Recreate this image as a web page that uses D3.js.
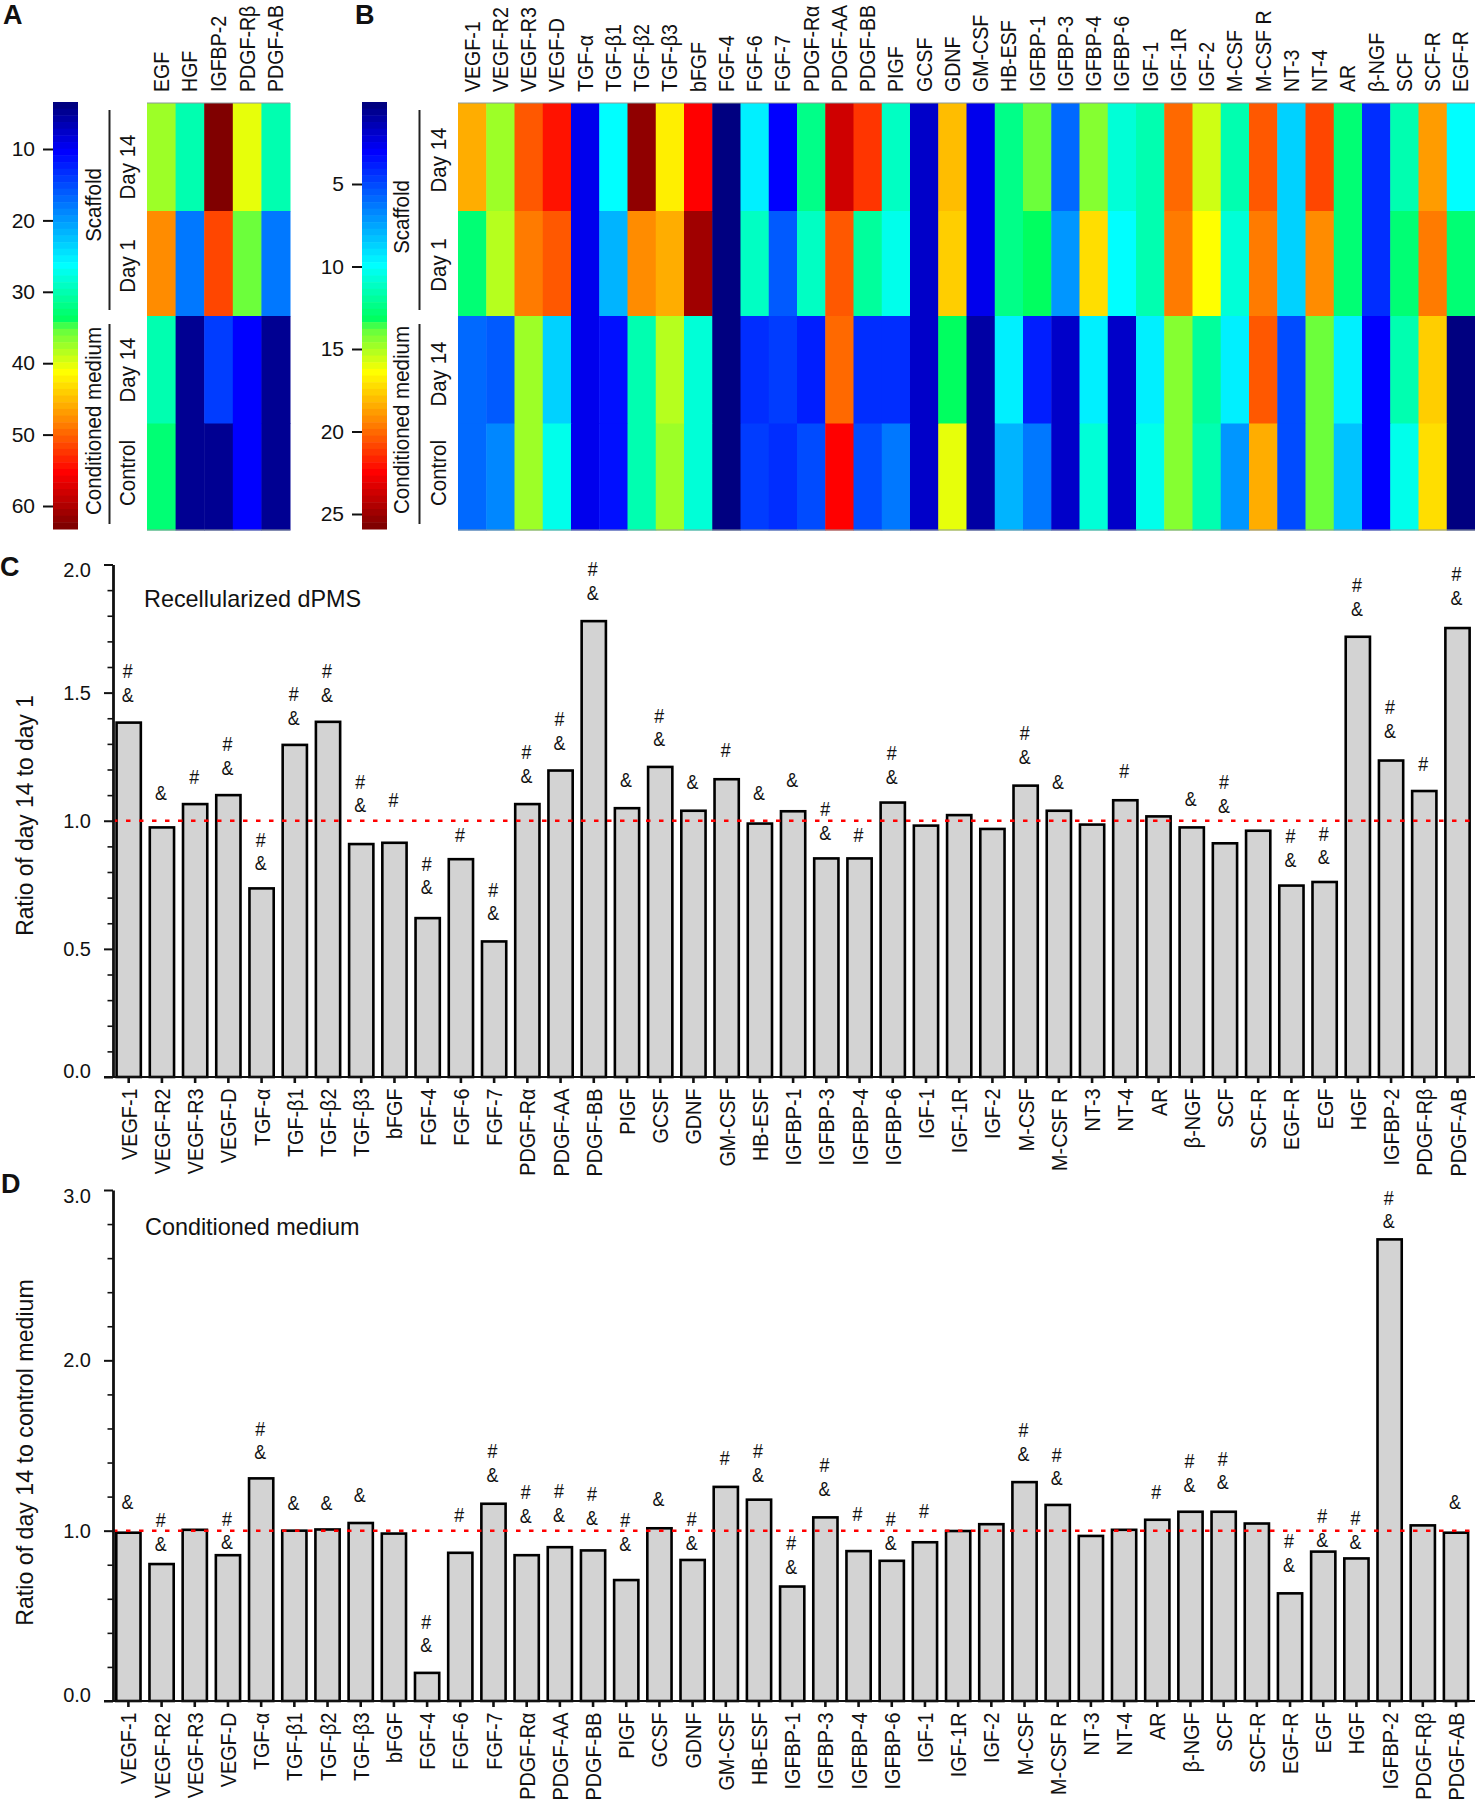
<!DOCTYPE html>
<html><head><meta charset="utf-8">
<script src="https://cdn.jsdelivr.net/npm/d3@7"></script>
<style>
html,body{margin:0;padding:0;background:#fff}
svg{display:block}
text{font-family:"Liberation Sans",Arial,sans-serif;fill:#111}
</style></head><body>
<svg id="c" width="1475" height="1800"></svg>
<script>
// ---------- DATA ----------
const colorLevels=[1,8,25,33,34.5,41,48,56,64];
const colorValues=["#000080","#0000ff","#00ffff","#00ff60","#60ff40","#ffff00","#ff8c00","#ff0000","#800000"];
const rowsLabels=["Day 14","Day 1","Day 14","Control"];

const catsA=["EGF","HGF","IGFBP-2","PDGF-Rβ","PDGF-AB"];
const levelsA_scaffold14=[37,29,64,40,29];
const levelsA_scaffold1=[48,16,52,35,16];
const levelsA_medium14=[29,2,12,8,2];
const levelsA_control=[32,2,2,8,2];
const ticksA=[10,20,30,40,50,60];
const ticksB=[5,10,15,20,25];

const catsB=["VEGF-1","VEGF-R2","VEGF-R3","VEGF-D","TGF-α","TGF-β1","TGF-β2","TGF-β3","bFGF","FGF-4","FGF-6","FGF-7","PDGF-Rα","PDGF-AA","PDGF-BB","PIGF","GCSF","GDNF","GM-CSF","HB-ESF","IGFBP-1","IGFBP-3","IGFBP-4","IGFBP-6","IGF-1","IGF-1R","IGF-2","M-CSF","M-CSF R","NT-3","NT-4","AR","β-NGF","SCF","SCF-R","EGF-R"];
const levelsB_scaffold14=[46,37,51,55,7,25,63,42,56,1,24,8,31,59,53,28,5,45,7,31,35,15,36,27,29,50,39,29,51,22,52,32,11,29,47,25];
const levelsB_scaffold1=[32,38,49,51,7,20,48,46,62,1,28,14,28,51,30,26,5,44,7,31,33,18,43,25,29,49,41,27,49,22,48,32,11,32,49,32];
const levelsB_medium14=[15,14,37,22,7,9,29,38,27,1,11,12,10,50,11,11,5,33,3,24,10,5,24,5,24,36,30,24,51,13,35,24,8,29,44,1];
const levelsB_control=[15,17,37,26,7,9,29,37,27,1,12,11,13,56,13,16,5,40,3,20,16,5,27,5,26,36,29,18,46,13,35,21,8,26,43,1];

const catsBars=["VEGF-1","VEGF-R2","VEGF-R3","VEGF-D","TGF-α","TGF-β1","TGF-β2","TGF-β3","bFGF","FGF-4","FGF-6","FGF-7","PDGF-Rα","PDGF-AA","PDGF-BB","PIGF","GCSF","GDNF","GM-CSF","HB-ESF","IGFBP-1","IGFBP-3","IGFBP-4","IGFBP-6","IGF-1","IGF-1R","IGF-2","M-CSF","M-CSF R","NT-3","NT-4","AR","β-NGF","SCF","SCF-R","EGF-R","EGF","HGF","IGFBP-2","PDGF-Rβ","PDGF-AB"];
const valuesC=[1.383,0.974,1.065,1.10,0.736,1.296,1.386,0.909,0.914,0.62,0.85,0.529,1.065,1.196,1.779,1.049,1.21,1.039,1.162,0.989,1.037,0.853,0.853,1.071,0.981,1.022,0.968,1.137,1.039,0.985,1.08,1.017,0.974,0.912,0.961,0.747,0.761,1.718,1.235,1.116,1.752];
const marksC=["#&","&","#","#&","#&","#&","#&","#&","#","#&","#","#&","#&","#&","#&","&","#&","&","#","&","&","#&","#","#&","","","","#&","&","","#","","&","#&","","#&","#&","#&","#&","#","#&"];
const markLevelC=[1.494,1.108,1.174,1.208,0.835,1.404,1.494,1.062,1.082,0.741,0.946,0.640,1.177,1.306,1.890,1.162,1.319,1.154,1.278,1.108,1.159,0.954,0.946,1.173,0,0,0,1.252,1.154,0,1.196,0,1.085,1.059,0,0.849,0.858,1.827,1.352,1.224,1.872];
const valuesD=[0.988,0.804,1.005,0.856,1.307,1.0,1.007,1.045,0.983,0.165,0.870,1.158,0.856,0.903,0.884,0.710,1.014,0.828,1.257,1.182,0.672,1.078,0.880,0.823,0.932,0.998,1.038,1.285,1.151,0.969,1.005,1.064,1.111,1.111,1.042,0.632,0.877,0.837,2.71,1.031,0.988];
const marksD=["&","#&","","#&","#&","&","&","&","","#&","#","#&","#&","#&","#&","#&","&","#&","#","#&","#&","#&","#","#&","#","","","#&","#&","","","#","#&","#&","","#&","#&","#&","#&","","&"];
const markLevelD=[1.172,0.925,0,0.934,1.462,1.165,1.167,1.212,0,0.328,1.094,1.330,1.09,1.094,1.078,0.925,1.189,0.929,1.429,1.330,0.790,1.248,1.099,0.929,1.116,0,0,1.453,1.309,0,0,1.231,1.271,1.285,0,0.800,0.948,0.936,2.818,0,1.172];
const majorC=[0,0.5,1,1.5,2];
const minorC=[0.1,0.2,0.3,0.4,0.6,0.7,0.8,0.9,1.1,1.2,1.3,1.4,1.6,1.7,1.8,1.9];
const majorD=[0,1,2,3];
const minorD=[0.2,0.4,0.6,0.8,1.2,1.4,1.6,1.8,2.2,2.4,2.6,2.8];

// ---------- DRAW ----------
const svg=d3.select("#c");
const color=d3.scaleLinear().domain(colorLevels).range(colorValues).interpolate(d3.interpolateRgb);
const levels=d3.range(1,65);
const INK="#111";
const ROT="rotate(-90) scale(1,1.08)";

function letter(t,x,y){svg.append("text").attr("x",x).attr("y",y).attr("font-size",27).attr("font-weight","bold").text(t);}
letter("A",3,24);letter("B",355,24);letter("C",0,576);letter("D",1,1193);

function colorbar(x0,ticks,domain,range){
  const g=svg.append("g");
  const y=d3.scaleBand().domain(levels).range([102,529]);
  g.selectAll("rect").data(levels).join("rect")
    .attr("x",x0).attr("width",25).attr("y",d=>y(d)).attr("height",y.bandwidth()+0.5).attr("fill",d=>color(d));
  const sc=d3.scaleLinear().domain(domain).range(range);
  const a=g.append("g").attr("transform",`translate(${x0},0)`)
    .call(d3.axisLeft(sc).tickValues(ticks).tickSize(10).tickPadding(8).tickFormat(d3.format("d")));
  a.select(".domain").remove();
  a.selectAll("line").attr("stroke",INK).attr("stroke-width",2);
  a.selectAll("text").attr("font-size",21).attr("font-family",null);
}
colorbar(53,ticksA,[10,60],[149,506]);
colorbar(362,ticksB,[5,25],[184,514]);

function sideLabels(xGroup,xDay,xLine,ys){
  const rot=(t,x,y)=>svg.append("text").attr("transform",`translate(${x},${y}) rotate(-90) scale(1,1.1)`)
    .attr("text-anchor","middle").attr("dy","0.35em").attr("font-size",20.5).text(t);
  rot("Scaffold",xGroup,ys.sc);rot("Conditioned medium",xGroup,ys.cm);
  rowsLabels.forEach((t,i)=>rot(t,xDay,ys.day[i]));
  [[110,310],[324,524]].forEach(s=>svg.append("line").attr("x1",xLine).attr("x2",xLine).attr("y1",s[0]).attr("y2",s[1])
    .attr("stroke","#222").attr("stroke-width",2));
}
sideLabels(93.5,127.5,109.5,{sc:205,cm:421,day:[167,266,370,473]});
sideLabels(401,438,419.5,{sc:217,cm:420,day:[160,265,374,473]});

function heatmap(cats,rows,x0,x1){
  const x=d3.scaleBand().domain(cats).range([x0,x1]);
  const y=d3.scaleOrdinal().domain([0,1,2,3]).range([103,211,316,423.5]);
  const yEnd=[211,316,423.5,530];
  const g=svg.append("g");
  rows.forEach((r,i)=>{
    g.append("g").selectAll("rect").data(r).join("rect")
      .attr("x",(d,j)=>x(cats[j])).attr("width",x.bandwidth()+0.5)
      .attr("y",y(i)).attr("height",yEnd[i]-y(i)+0.5).attr("fill",d=>color(d));
  });
  [103,530].forEach(v=>g.append("line").attr("x1",x0).attr("x2",x1).attr("y1",v).attr("y2",v).attr("stroke","#8a9a9a").attr("stroke-width",1));
  const a=svg.append("g").attr("transform","translate(0,92)")
    .call(d3.axisTop(x).tickSize(0).tickPadding(0));
  a.select(".domain").remove();
  a.selectAll("text").attr("font-size",19.6).attr("font-family",null)
    .attr("transform",ROT).attr("text-anchor","start").attr("x",0).attr("y",0).attr("dy","0.35em");
}
heatmap(catsA,[levelsA_scaffold14,levelsA_scaffold1,levelsA_medium14,levelsA_control],147,290);
heatmap(catsB,[levelsB_scaffold14,levelsB_scaffold1,levelsB_medium14,levelsB_control],458,1475);

function barPanel(o){
  const g=svg.append("g");
  const x=d3.scaleBand().domain(catsBars).range([o.x0,o.x0+41*o.step]).paddingInner(0.27).paddingOuter(0.135);
  const y=d3.scaleLinear().domain([0,o.max]).range([o.yBase,o.yTop]);
  g.selectAll("rect").data(o.values).join("rect")
    .attr("x",(d,i)=>x(catsBars[i])).attr("width",x.bandwidth())
    .attr("y",d=>y(d)).attr("height",d=>y(0)-y(d))
    .attr("fill","#d3d3d3").attr("stroke","#000").attr("stroke-width",2.6);
  // dotted reference line at ratio 1
  g.append("line").attr("x1",113).attr("x2",1475).attr("y1",y(1)).attr("y2",y(1))
    .attr("stroke","#ff0000").attr("stroke-width",2.5).attr("stroke-dasharray","4.5,8.5");
  // y axis
  const minor=g.append("g").attr("transform","translate(113,0)")
    .call(d3.axisLeft(y).tickValues(o.minor).tickSize(5.5).tickFormat(""));
  minor.select(".domain").remove();
  minor.selectAll("line").attr("stroke",INK).attr("stroke-width",1.6);
  const ya=g.append("g").attr("transform","translate(113,0)")
    .call(d3.axisLeft(y).tickValues(o.major).tickSize(9).tickSizeOuter(0).tickPadding(13).tickFormat(d3.format(".1f")));
  ya.select(".domain").attr("stroke",INK).attr("stroke-width",2.8);
  ya.selectAll("line").attr("stroke",INK).attr("stroke-width",2);
  ya.selectAll("text").attr("font-size",20).attr("font-family",null)
    .attr("dy",d=>d===0?"-0.0em":d===o.max?"0.6em":"0.32em");
  // x axis
  const xa=g.append("g").attr("transform",`translate(0,${o.yBase})`)
    .call(d3.axisBottom(x).tickSize(6).tickSizeOuter(0).tickPadding(0));
  xa.select(".domain").remove();
  g.append("line").attr("x1",104).attr("x2",1475).attr("y1",o.yBase).attr("y2",o.yBase).attr("stroke",INK).attr("stroke-width",2);
  xa.selectAll("line").attr("stroke",INK).attr("stroke-width",2.6);
  xa.selectAll("text").attr("font-size",19.8).attr("font-family",null)
    .attr("transform",ROT).attr("text-anchor","end").attr("x",-11.5).attr("y",0.5).attr("dy","0.35em");
  // significance marks
  const gap=23.7;
  o.marks.forEach((m,i)=>{
    if(!m) return;
    const cx=x(catsBars[i])+x.bandwidth()/2-1;
    const base=y(o.markLevels[i]);
    const put=(t,yy)=>g.append("text").attr("transform",`translate(${cx},${yy}) scale(0.85,1)`).attr("dy","0.35em").attr("text-anchor","middle").attr("font-size",21).text(t);
    if(m==="#&"){put("#",base-gap);put("&",base);} else put(m,base);
  });
  svg.append("text").attr("transform",`translate(${o.titleX},${(o.titleY)}) rotate(-90) scale(1,1.05)`)
    .attr("text-anchor","middle").attr("dy","0.35em").attr("font-size",o.titleSize).text(o.title);
  svg.append("text").attr("x",o.noteX).attr("y",o.noteY).attr("dy","0.35em").attr("font-size",o.noteSize).text(o.note);
}
barPanel({values:valuesC,marks:marksC,markLevels:markLevelC,major:majorC,minor:minorC,max:2,yBase:1077,yTop:564.5,x0:112.09,step:33.22,
  title:"Ratio of day 14 to day 1",titleX:24.5,titleY:815.5,titleSize:22.8,note:"Recellularized dPMS",noteX:144,noteY:598.5,noteSize:23.4});
barPanel({values:valuesD,marks:marksD,markLevels:markLevelD,major:majorD,minor:minorD,max:3,yBase:1701,yTop:1190,x0:111.8,step:33.19,
  title:"Ratio of day 14 to control medium",titleX:24,titleY:1452.5,titleSize:23.2,note:"Conditioned medium",noteX:145,noteY:1227,noteSize:23.4});
</script>
</body></html>
